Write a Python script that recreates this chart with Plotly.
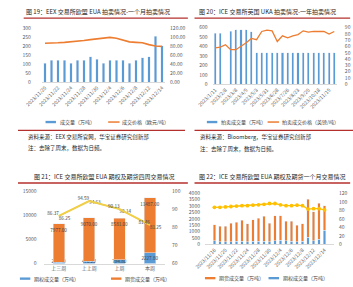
import plotly.graph_objects as go

W, H = 353, 287
FONT = "Noto Sans CJK SC"
TXT = "#404040"
BLUE = "#5b9bd5"
ORANGE = "#ed7d31"
YELLOW = "#ffc000"
RED = "#b4302d"

def fx(px):
    return px / W

def fy(py):
    return 1 - py / H

# ---------------- Panel 1 (EEX EUA auctions, one month) ----------------
p1_title = "图 19：EEX 交易所欧盟 EUA 拍卖情况-一个月拍卖情况"
p1_dates = ["2023/11/20", "2023/11/21", "2023/11/22", "2023/11/23", "2023/11/24",
            "2023/11/27", "2023/11/28", "2023/11/29", "2023/11/30", "2023/12/1",
            "2023/12/4", "2023/12/5", "2023/12/6", "2023/12/7", "2023/12/8",
            "2023/12/11", "2023/12/12", "2023/12/13", "2023/12/14"]
p1_volume = [105, 120, 122, 120, 104, 120, 120, 140, 125, 104,
             120, 120, 120, 104, 120, 135, 140, 255, 200]
p1_price = [86, 86, 87, 88, 89, 91, 92, 94, 96, 98,
            99, 97, 93, 89, 88, 87, 83, 80, 79]
p1_names = ["成交量（万吨）", "成交价格（欧元/吨）"]
p1_source = "资料来源：EEX 交易所官网，华宝证券研究创新部"
p1_note = "注：去除了周末，数据为日频。"

# ---------------- Panel 2 (ICE UKA auctions, one year) ----------------
p2_title = "图 20：ICE 交易所英国 UKA 拍卖情况-一年拍卖情况"
p2_dates = ["2023/1/11", "2023/1/25", "2023/2/8", "2023/2/22", "2023/3/8",
            "2023/3/22", "2023/4/5", "2023/4/19", "2023/5/3", "2023/5/17",
            "2023/5/31", "2023/6/14", "2023/6/28", "2023/7/12", "2023/7/26",
            "2023/8/9", "2023/8/23", "2023/9/6", "2023/9/20", "2023/10/4",
            "2023/10/18", "2023/11/1", "2023/11/15", "2023/11/29"]
p2_volume = [540, 540, 0, 560, 580, 580, 580, 555,
             335, 335, 335, 335, 335, 335, 335, 335,
             335, 335, 335, 335, 335, 335, 335, 335]
p2_price = [58, 59, 63, 55, 55, 60, 66, 73, 71, 84, 86, 85,
            68, 77, 74, 77, 79, 85, 83, 84, 84, 84, 80, 84]
p2_names = ["拍卖成交量（万吨）", "拍卖成交价格（英镑/吨）"]
p2_source = "资料来源：Bloomberg，华宝证券研究创新部"
p2_note = "注：去除了周末，数据为日频。"

# ---------------- Panel 3 (ICE EUA options & futures, four weeks) ----------------
p3_title = "图 21：ICE 交易所欧盟 EUA 期权及期货四周交易情况"
p3_weeks = ["上三周", "上上周", "上周", "本周"]
p3_options = [297.40, 470.22, 794.80, 2227.80]
p3_futures = [7977.00, 9070.00, 8581.00, 11487.00]
p3_price_a = [86.37, 94.59, 90.13, 81.46]
p3_price_b = [86.25, 94.63, 90.14, 81.25]
p3_names = ["期权成交量（万吨）", "期货成交量（万吨）", "价格A", "价格B"]

# ---------------- Panel 4 (ICE EUA options & futures, one month) ----------------
p4_title = "图 22：ICE 交易所欧盟 EUA 期权及期货一个月交易情况"
p4_dates = ["2023/11/16", "2023/11/17", "2023/11/20", "2023/11/21", "2023/11/22",
            "2023/11/23", "2023/11/24", "2023/11/27", "2023/11/28", "2023/11/29",
            "2023/11/30", "2023/12/1", "2023/12/4", "2023/12/5", "2023/12/6",
            "2023/12/7", "2023/12/8", "2023/12/11", "2023/12/12", "2023/12/13",
            "2023/12/14"]
p4_options = [280, 220, 200, 230, 250, 260, 220, 250, 240, 270, 220,
              300, 330, 280, 250, 220, 240, 550, 300, 400, 1100]
p4_futures = [1260, 1220, 1210, 1410, 1490, 1640, 1400, 1700, 1810, 1930, 1420,
              1960, 1930, 1540, 1550, 1270, 1380, 2990, 2260, 2830, 1930]
p4_price = [87, 87, 88, 89, 90, 91, 91, 92, 93, 94, 96,
            96, 93, 91, 91, 92, 91, 83, 84, 84, 81]
p4_names = ["期货成交量（万吨）", "期权成交量（万吨）"]

fig = go.Figure()

lab = dict(size=4.6, color=TXT, family=FONT)

# Panel 1 traces
fig.add_trace(go.Bar(x=p1_dates, y=p1_volume, name=p1_names[0], marker_color=BLUE,
                     width=0.4, xaxis="x", yaxis="y", showlegend=False))
fig.add_trace(go.Scatter(x=p1_dates, y=p1_price, name=p1_names[1], mode="lines",
                         line=dict(color=ORANGE, width=1.6), xaxis="x", yaxis="y2",
                         showlegend=False))
# Panel 2 traces
fig.add_trace(go.Bar(x=p2_dates, y=p2_volume, name=p2_names[0], marker_color=BLUE,
                     width=0.4, xaxis="x2", yaxis="y3", showlegend=False))
fig.add_trace(go.Scatter(x=p2_dates, y=p2_price, name=p2_names[1], mode="lines",
                         line=dict(color=ORANGE, width=1.3), xaxis="x2", yaxis="y4",
                         showlegend=False))
# Panel 3 traces
fig.add_trace(go.Bar(x=p3_weeks, y=p3_options, name=p3_names[0], marker_color=BLUE,
                     width=0.38, xaxis="x3", yaxis="y5", showlegend=False,
                     text=[f"{v:.2f}" for v in p3_options], textposition="inside",
                     insidetextanchor="start", constraintext="none", textangle=0,
                     textfont=lab))
fig.add_trace(go.Bar(x=p3_weeks, y=p3_futures, name=p3_names[1], marker_color=ORANGE,
                     width=0.38, xaxis="x3", yaxis="y5", showlegend=False,
                     text=[f"{v:.2f}" for v in p3_futures], textposition="inside",
                     constraintext="none", textangle=0,
                     textfont=lab))
fig.add_trace(go.Scatter(x=p3_weeks, y=p3_price_b, name=p3_names[3], mode="lines+text",
                         line=dict(color="#e8c23a", width=1.2),
                         text=[f"{v:.2f}" for v in p3_price_b], textposition="bottom right",
                         textfont=lab, xaxis="x3", yaxis="y6", showlegend=False))
fig.add_trace(go.Scatter(x=p3_weeks, y=p3_price_a, name=p3_names[2], mode="lines+text",
                         line=dict(color="#f0cf4a", width=2),
                         text=[f"{v:.2f}" for v in p3_price_a], textposition="top left",
                         textfont=lab, xaxis="x3", yaxis="y6", showlegend=False))
# Panel 4 traces
fig.add_trace(go.Bar(x=p4_dates, y=p4_options, name=p4_names[1], marker_color=BLUE,
                     width=0.45, xaxis="x4", yaxis="y7", showlegend=False))
fig.add_trace(go.Bar(x=p4_dates, y=p4_futures, name=p4_names[0], marker_color=ORANGE,
                     width=0.45, xaxis="x4", yaxis="y7", showlegend=False))
fig.add_trace(go.Scatter(x=p4_dates, y=p4_price, name="价格", mode="lines+markers",
                         line=dict(color=YELLOW, width=1.3),
                         marker=dict(size=3.8, color=YELLOW),
                         xaxis="x4", yaxis="y8", showlegend=False))

tickfont = dict(size=5, color="#595959", family=FONT)

def xax(domain, anchor, tickvals, angle):
    return dict(domain=domain, anchor=anchor, type="category", tickvals=tickvals,
                tickangle=angle, tickfont=tickfont, showgrid=False, zeroline=False,
                showline=True, linecolor="#d9d9d9", linewidth=0.8, ticks="",
                fixedrange=True)

def yax(domain, anchor, rng, dtick, side="left", overlaying=None, fmt="d", standoff=4):
    d = dict(domain=domain, anchor=anchor, range=rng, dtick=dtick, side=side,
             tickfont=tickfont, showgrid=False, zeroline=False, showline=False,
             ticks="", ticklabelstandoff=standoff, fixedrange=True, tickformat=fmt)
    if overlaying:
        d["overlaying"] = overlaying
    return d

# panel geometry (pixels)
p1x = [fx(25), fx(155)]
p1y = [fy(80), fy(24.5)]
p2x = [fx(205), fx(336)]
p2y = [fy(82.3), fy(24.3)]
p3x = [fx(27), fx(155)]
p3y = [fy(266), fy(192)]
p4x = [fx(197), fx(333)]
p4y = [fy(246.5), fy(194)]

fig.update_layout(
    width=W, height=H, margin=dict(l=0, r=0, t=0, b=0),
    paper_bgcolor="white", plot_bgcolor="rgba(0,0,0,0)",
    barmode="stack", showlegend=False,
    font=dict(family=FONT, size=5, color=TXT),
    xaxis=xax(p1x, "y", p1_dates[::2], -45),
    yaxis=yax(p1y, "x", [0, 300], 50, standoff=10),
    yaxis2=yax(p1y, "x", [0, 120], 20, side="right", overlaying="y", fmt=".2f"),
    xaxis2=xax(p2x, "y3", p2_dates[::2], -45),
    yaxis3=yax(p2y, "x2", [0, 600], 100),
    yaxis4=yax(p2y, "x2", [0, 90], 10, side="right", overlaying="y3", standoff=7),
    xaxis3=xax(p3x, "y5", p3_weeks, 0),
    yaxis5=yax(p3y, "x3", [0, 15000], 5000, standoff=6),
    yaxis6=yax(p3y, "x3", [60, 100], 10, side="right", overlaying="y5", standoff=6),
    xaxis4=xax(p4x, "y7", p4_dates[::2], -45),
    yaxis7=yax(p4y, "x4", [0, 4000], 500),
    yaxis8=yax(p4y, "x4", [0, 120], 20, side="right", overlaying="y7"),
)

shapes = []
annotations = []

def hline(x0, x1, y, color=RED, w=1.4):
    shapes.append(dict(type="line", xref="paper", yref="paper", x0=fx(x0), x1=fx(x1),
                       y0=fy(y), y1=fy(y), line=dict(color=color, width=w)))

def text(x, y, s, size=5, color=TXT, anchor="left"):
    annotations.append(dict(xref="paper", yref="paper", x=fx(x), y=fy(y), text=s,
                            showarrow=False, xanchor=anchor, yanchor="middle",
                            font=dict(family=FONT, size=size, color=color)))

def legend_item(x, y, name, color, kind):
    if kind == "bar":
        shapes.append(dict(type="rect", xref="paper", yref="paper", x0=fx(x), x1=fx(x + 11),
                           y0=fy(y + 1.2), y1=fy(y - 1.2), fillcolor=color,
                           line=dict(width=0)))
    else:
        shapes.append(dict(type="line", xref="paper", yref="paper", x0=fx(x), x1=fx(x + 12),
                           y0=fy(y), y1=fy(y), line=dict(color=color, width=1.5)))
    text(x + 13, y, name, size=5)

# titles & underlines
text(6, 8, p1_title, size=6, color="#262626")
text(189, 8, p2_title, size=6, color="#262626")
text(15, 177, p3_title, size=6, color="#262626")
text(189, 177, p4_title, size=6, color="#262626")
hline(6, 179, 14.5)
hline(186, 350, 14.5)
hline(0, 179, 183.5)
hline(186, 350, 183.5)

# separators + sources
hline(0, 176, 129.5)
hline(186, 353, 129.5)
text(8, 136, p1_source, size=5.5, color="#262626")
text(8, 148, p1_note, size=5.5, color="#262626")
text(190, 136, p2_source, size=5.5, color="#262626")
text(190, 149, p2_note, size=5.5, color="#262626")

# legends
legend_item(29, 121, p1_names[0], BLUE, "bar")
legend_item(95, 121, p1_names[1], ORANGE, "line")
legend_item(199, 121, p2_names[0], BLUE, "bar")
legend_item(263, 121, p2_names[1], ORANGE, "line")
legend_item(2, 281.5, p3_names[0], BLUE, "bar")
legend_item(98, 281.5, p3_names[1], ORANGE, "bar")
legend_item(197, 281, p4_names[0], ORANGE, "bar")
legend_item(264, 281, p4_names[1], BLUE, "bar")

fig.update_layout(shapes=shapes, annotations=annotations)
fig.write_html("out.html")
